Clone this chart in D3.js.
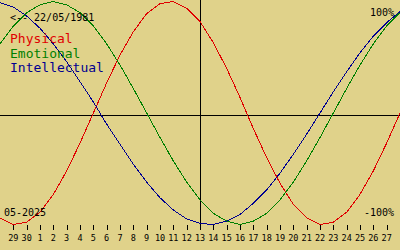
<!DOCTYPE html>
<html>
<head>
<meta charset="utf-8">
<script src="https://cdn.jsdelivr.net/npm/d3@7"></script>
<style>
  body { margin: 0; background: #e0d28a; }
  svg { display: block; }
  text { font-family: "DejaVu Sans Mono", "Liberation Mono", monospace; }
</style>
</head>
<body>
<svg id="bio" width="400" height="250"></svg>
<script>
// day offsets in May 2025 (-2 = 28 April ... 28 = 28 May)
const days = [-2, -1, 0, 1, 2, 3, 4, 5, 6, 7, 8, 9, 10, 11, 12, 13, 14, 15,
              16, 17, 18, 19, 20, 21, 22, 23, 24, 25, 26, 27, 28];

const physical = [-0.94, -1.00, -0.98, -0.89, -0.73, -0.52, -0.27, 0.00, 0.27, 0.52, 0.73,
                  0.89, 0.98, 1.00, 0.94, 0.82, 0.63, 0.40, 0.14, -0.14, -0.40, -0.63,
                  -0.82, -0.94, -1.00, -0.98, -0.89, -0.73, -0.52, -0.27, 0.00];

const emotional = [0.62, 0.78, 0.90, 0.97, 1.00, 0.97, 0.90, 0.78, 0.62, 0.43, 0.22,
                   0.00, -0.22, -0.43, -0.62, -0.78, -0.90, -0.97, -1.00, -0.97, -0.90, -0.78,
                   -0.62, -0.43, -0.22, 0.00, 0.22, 0.43, 0.62, 0.78, 0.90];

const intellectual = [0.99, 0.95, 0.87, 0.76, 0.62, 0.46, 0.28, 0.10, -0.10, -0.28, -0.46,
                      -0.62, -0.76, -0.87, -0.95, -0.99, -1.00, -0.97, -0.91, -0.81, -0.69, -0.54,
                      -0.37, -0.19, 0.00, 0.19, 0.37, 0.54, 0.69, 0.81, 0.91];

const tickDays   = [-1, 0, 1, 2, 3, 4, 5, 6, 7, 8, 9, 10, 11, 12, 13, 14, 15, 16, 17,
                    18, 19, 20, 21, 22, 23, 24, 25, 26, 27];
const tickLabels = ["29", "30", "1", "2", "3", "4", "5", "6", "7", "8", "9", "10", "11", "12", "13",
                    "14", "15", "16", "17", "18", "19", "20", "21", "22", "23", "24", "25", "26", "27"];

const today = 13;

const series = [
  {name: "Physical",     values: physical,     color: "#e00000"},
  {name: "Emotional",    values: emotional,    color: "#008000"},
  {name: "Intellectual", values: intellectual, color: "#000090"}
];

const svg    = d3.select("#bio"),
      width  = +svg.attr("width"),
      x      = d3.scaleLinear().domain([-2, 28]).range([0, width]),
      y      = d3.scaleLinear().domain([-1, 1]).range([224.5, 1.5]);

svg.append("rect")
    .attr("width", width)
    .attr("height", 250)
    .attr("fill", "#e0d28a");

// zero line and today line
svg.append("line")
    .attr("x1", 0).attr("x2", width)
    .attr("y1", 115.5).attr("y2", 115.5)
    .attr("stroke", "#000")
    .attr("shape-rendering", "crispEdges");

svg.append("line")
    .attr("x1", Math.floor(x(today)) + 0.5).attr("x2", Math.floor(x(today)) + 0.5)
    .attr("y1", 0).attr("y2", 230)
    .attr("stroke", "#000")
    .attr("shape-rendering", "crispEdges");

// the three cycles
const line = d3.line()
    .x((d, i) => x(days[i]))
    .y(d => y(d));

svg.selectAll(".cycle")
  .data(series)
  .enter().append("path")
    .attr("class", "cycle")
    .attr("d", d => line(d.values))
    .attr("fill", "none")
    .attr("stroke", d => d.color)
    .attr("stroke-width", 1)
    .attr("shape-rendering", "crispEdges");

// day ticks
const ticks = svg.append("g");

ticks.selectAll("line")
  .data(tickDays)
  .enter().append("line")
    .attr("x1", d => Math.round(x(d)) + 0.5)
    .attr("x2", d => Math.round(x(d)) + 0.5)
    .attr("y1", 225)
    .attr("y2", 230)
    .attr("stroke", "#000")
    .attr("shape-rendering", "crispEdges");

ticks.selectAll("text")
  .data(tickDays)
  .enter().append("text")
    .attr("x", d => x(d))
    .attr("y", 241)
    .attr("text-anchor", "middle")
    .style("font-size", "8.5px")
    .text((d, i) => tickLabels[i]);

// legend
svg.selectAll(".legend")
  .data(series)
  .enter().append("text")
    .attr("class", "legend")
    .attr("x", 10)
    .attr("y", (d, i) => 43 + i * 14.5)
    .attr("fill", d => d.color)
    .style("font-size", "13px")
    .text(d => d.name);

//labels
svg.append("text")
    .attr("x", 10)
    .attr("y", 21)
    .style("font-size", "10px")
    .text("<-- 22/05/1981");

svg.append("text")
    .attr("x", 394)
    .attr("y", 16)
    .attr("text-anchor", "end")
    .style("font-size", "10px")
    .text("100%");

svg.append("text")
    .attr("x", 394)
    .attr("y", 216)
    .attr("text-anchor", "end")
    .style("font-size", "10px")
    .text("-100%");

svg.append("text")
    .attr("x", 4)
    .attr("y", 216)
    .style("font-size", "10px")
    .text("05-2025");
</script>
</body>
</html>
